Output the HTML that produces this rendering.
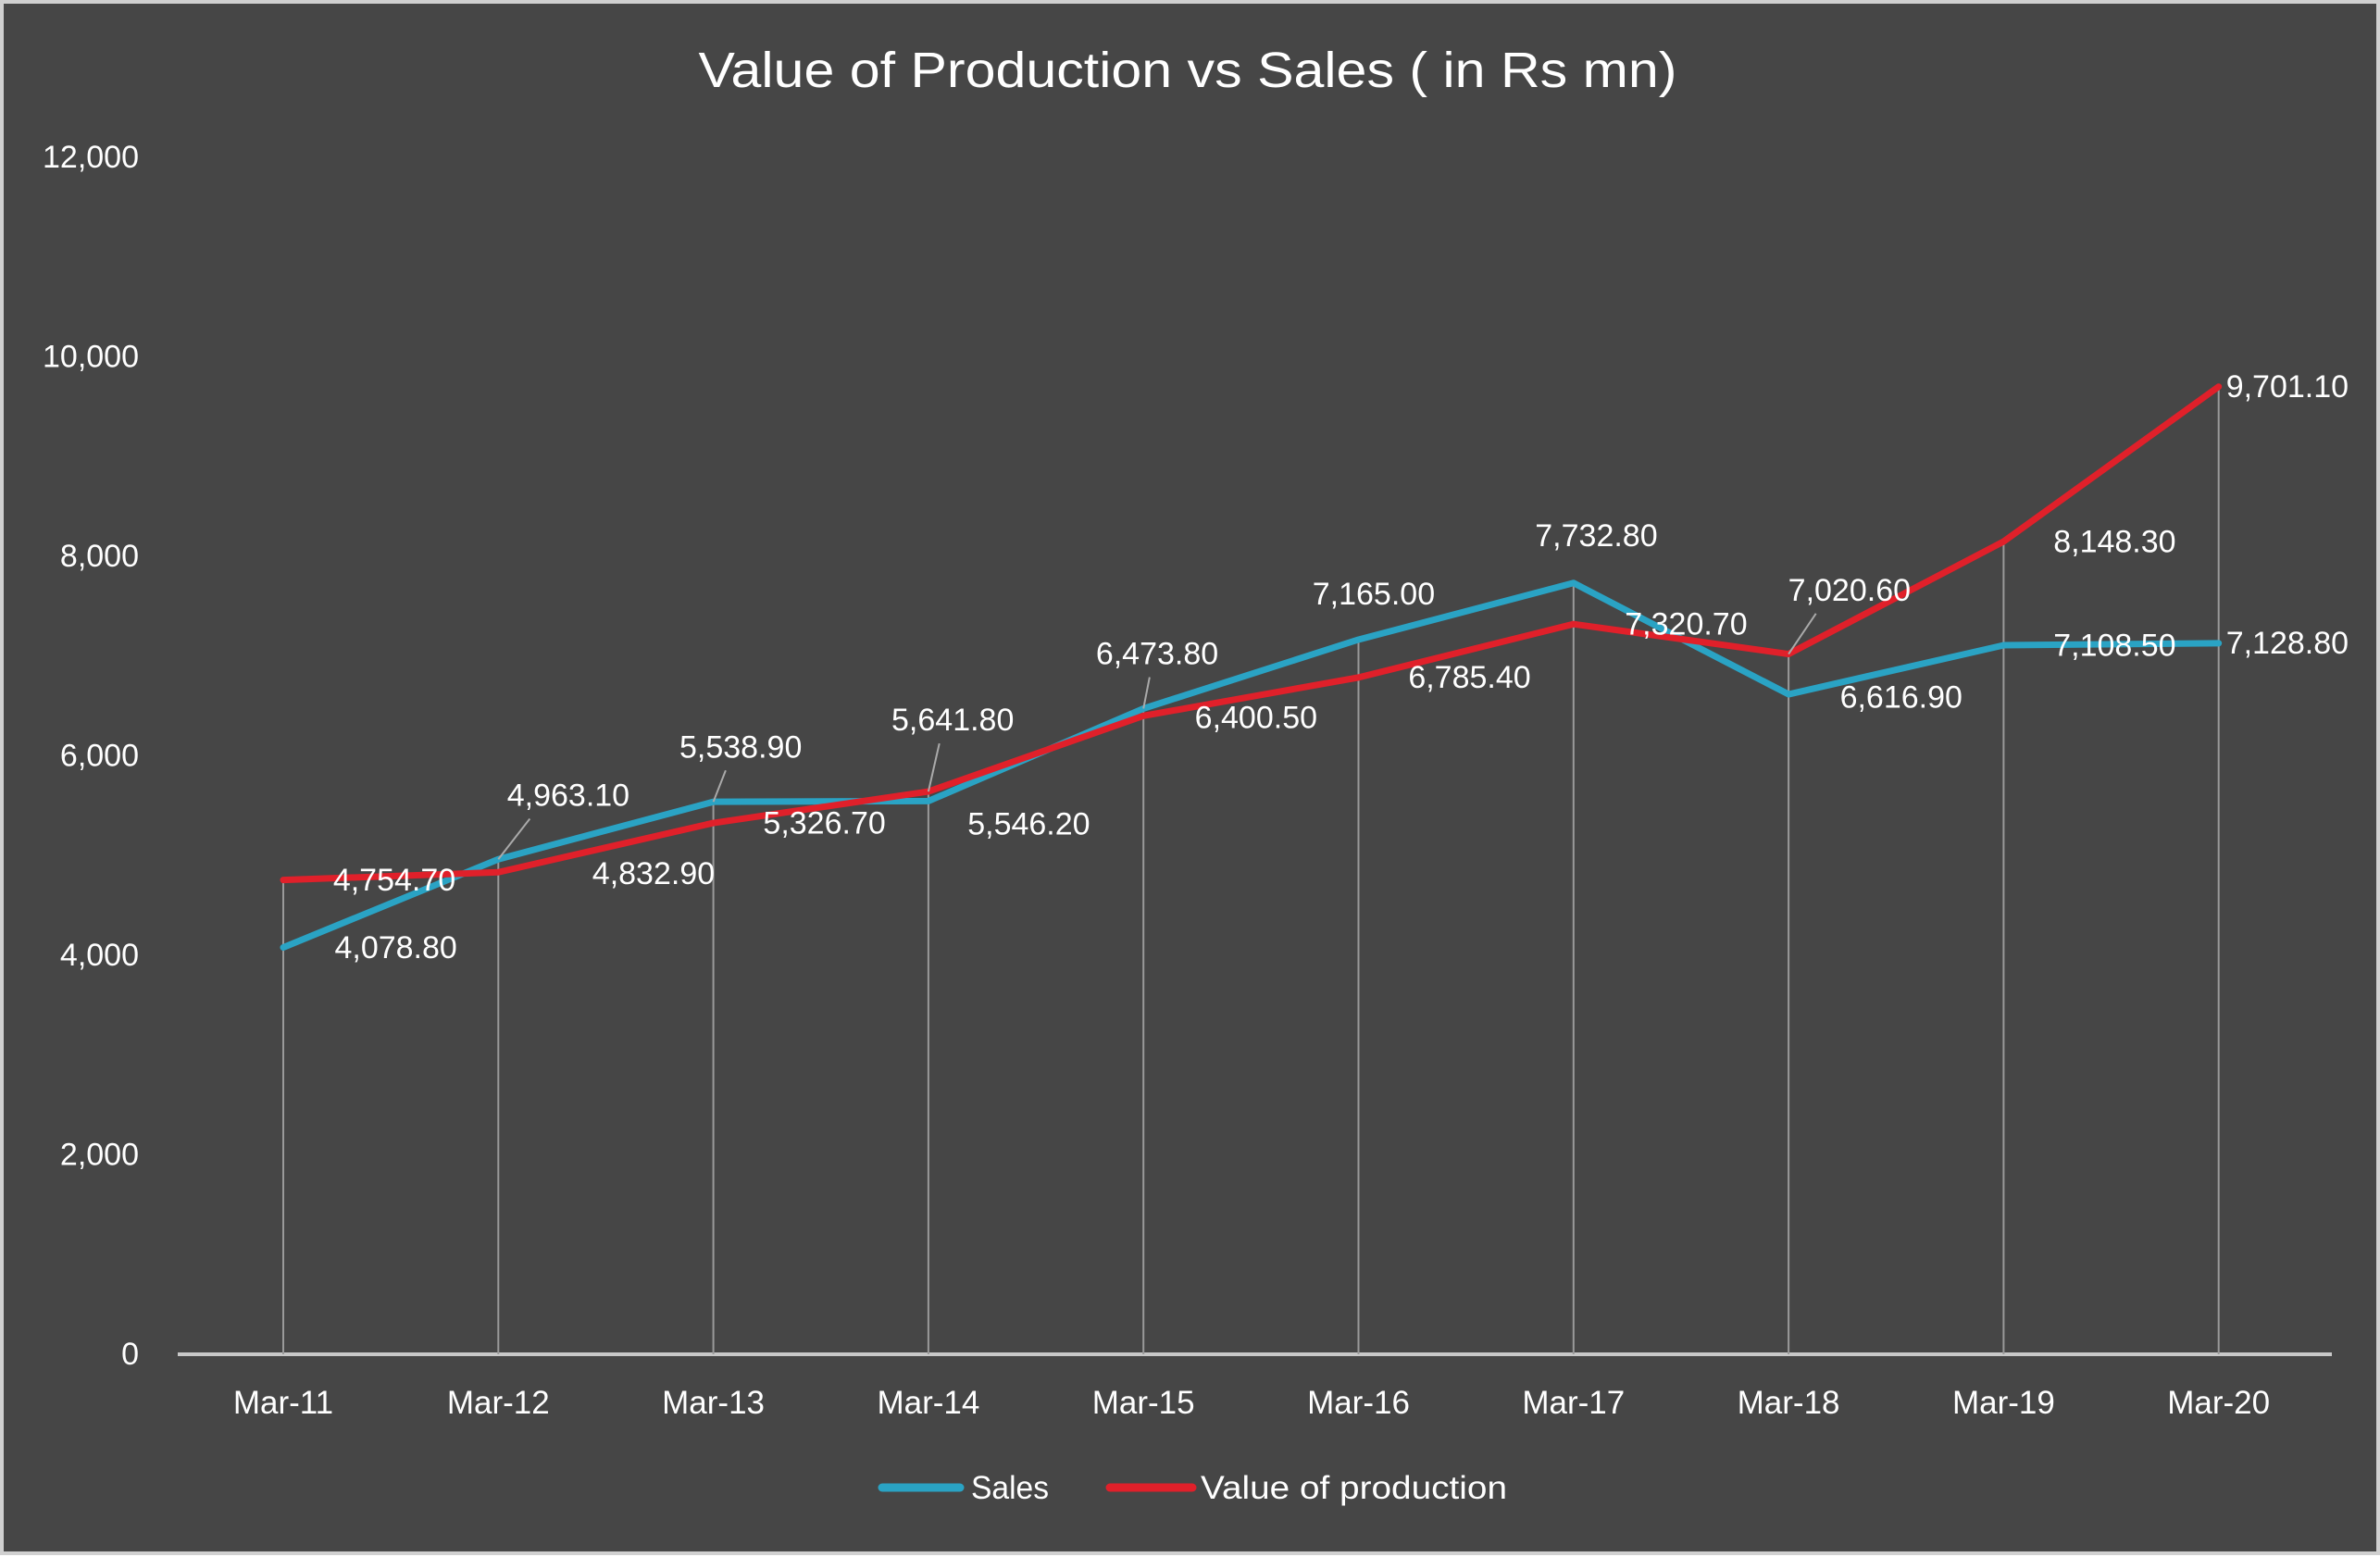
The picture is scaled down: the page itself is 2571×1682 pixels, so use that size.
<!DOCTYPE html>
<html><head><meta charset="utf-8"><style>
html,body{margin:0;padding:0;background:#fff;}
svg{display:block;font-family:"Liberation Sans",sans-serif;}
</style></head><body>
<svg id="chart" width="2571" height="1682" viewBox="0 0 2571 1682">
<rect x="2" y="2" width="2567" height="1676" fill="#464646" stroke="#d0d0d0" stroke-width="4"/>
<text x="1283" y="94" fill="#fff" font-size="54" text-anchor="middle" textLength="1057" lengthAdjust="spacingAndGlyphs">Value of Production vs Sales ( in Rs mn)</text>
<g id="yaxis"></g>
<g id="xaxis"></g>
<g id="drops"></g>
<g id="series"></g>
<g id="labels"></g>
<g>
<line x1="953" y1="1607" x2="1037" y2="1607" stroke="#2aa3c4" stroke-width="9" stroke-linecap="round"/>
<text x="1049" y="1619" fill="#fff" font-size="35" textLength="84" lengthAdjust="spacingAndGlyphs">Sales</text>
<line x1="1199" y1="1607" x2="1288" y2="1607" stroke="#e0202a" stroke-width="9" stroke-linecap="round"/>
<text x="1297" y="1619" fill="#fff" font-size="35" textLength="331" lengthAdjust="spacingAndGlyphs">Value of production</text>
</g>
</svg>
<script>
const categories=["Mar-11","Mar-12","Mar-13","Mar-14","Mar-15","Mar-16","Mar-17","Mar-18","Mar-19","Mar-20"];
const sales=[4078.8,4963.1,5538.9,5546.2,6473.8,7165.0,7732.8,6616.9,7108.5,7128.8];
const production=[4754.7,4832.9,5326.7,5641.8,6400.5,6785.4,7320.7,7020.6,8148.3,9701.1];
const yTicks=[0,2000,4000,6000,8000,10000,12000];
const NS="http://www.w3.org/2000/svg";
const x0=306,dx=232.3,y0=1463,yTop=170,yMax=12000;
function xs(i){return x0+i*dx;}
function ys(v){return y0-(v/yMax)*(y0-yTop);}
function mk(tag,attrs,parent){const e=document.createElementNS(NS,tag);for(const k in attrs)e.setAttribute(k,attrs[k]);parent.appendChild(e);return e;}
function fmt(v){return v.toLocaleString("en-US",{minimumFractionDigits:2,maximumFractionDigits:2});}
const S=1.644;
const salesOff=[[74,2],[46,-40],[18,-34],[66,17],[9,-34],[10,-28],[15,-29],[74,4],[73,2],[48,2]];
const prodOff=[[73,2],[102,3],[73,2],[16,-45],[74,3],[73,2],[74,2],[40,-40],[73,2],[48,2]];
const leaderSales=[false,true,true,false,true,false,false,false,false,false];
const leaderProd=[false,false,false,true,false,false,false,true,false,false];
const ya=document.getElementById('yaxis'),xa=document.getElementById('xaxis'),dr=document.getElementById('drops'),se=document.getElementById('series'),lb=document.getElementById('labels');
yTicks.forEach(t=>{
 const tx=mk('text',{x:150,y:ys(t)+11,fill:'#fff','font-size':34,'text-anchor':'end'},ya);
 tx.textContent=t.toLocaleString("en-US");
 
 
});
const ax=mk('line',{x1:192,y1:y0,x2:2519,y2:y0,stroke:'#c8c8c8','stroke-width':4},xa);


categories.forEach((c,i)=>{
 const tx=mk('text',{x:xs(i),y:1527,fill:'#fff','font-size':35,'text-anchor':'middle'},xa);
 tx.textContent=c;
 
 
 const d=mk('line',{x1:xs(i),y1:ys(Math.max(sales[i],production[i])),x2:xs(i),y2:y0,stroke:'#9a9a9a','stroke-width':2},dr);
 
 
});
function line(vals,color,name){
 const p=mk('polyline',{points:vals.map((v,i)=>xs(i)+','+ys(v)).join(' '),fill:'none',stroke:color,'stroke-width':7,'stroke-linejoin':'round','stroke-linecap':'round'},se);
 
 
}
line(sales,'#2aa3c4','sales-line');
line(production,'#e0202a','production-line');
function labels(vals,off,lead,name){
 vals.forEach((v,i)=>{
  const px=xs(i),py=ys(v),lx=px+off[i][0]*S,ly=py+off[i][1]*S;
  if(lead[i]){
   const l=mk('line',{x1:px,y1:py,x2:px+(off[i][0]*S)*0.45,y2:ly+22,stroke:'#aaa','stroke-width':2},lb);
   
   
  }
  const anchor=i===9?'start':'middle';
  const tx=mk('text',{x:i===9?px+8:lx,y:ly+8,fill:'#fff','font-size':34,'text-anchor':anchor},lb);
  tx.textContent=fmt(v);
  
  
 });
}
labels(sales,salesOff,leaderSales,'sales-value-label');
labels(production,prodOff,leaderProd,'production-value-label');
</script>
</body></html>
